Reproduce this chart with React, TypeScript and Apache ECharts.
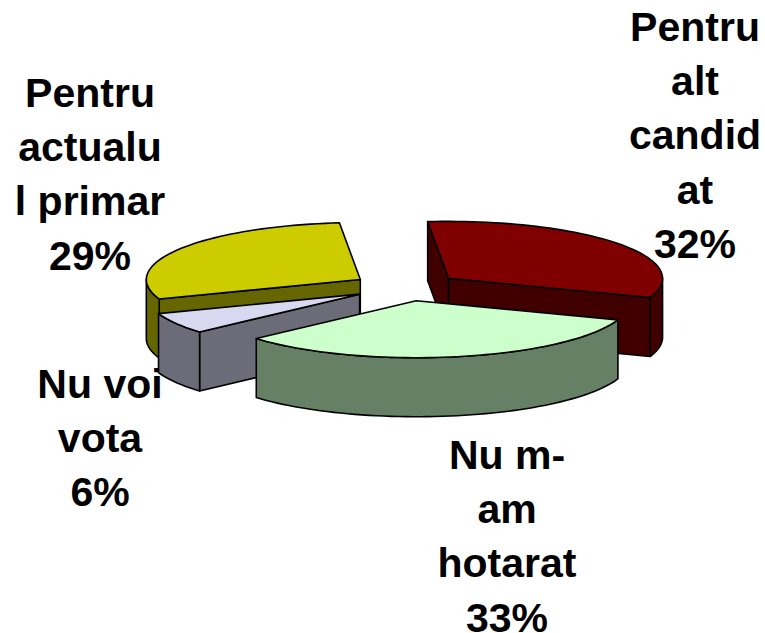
import React, { useEffect, useRef } from "react";
import * as echarts from "echarts";

const categories = ["Pentru alt candidat", "Nu m-am hotarat", "Nu voi vota", "Pentru actualul primar"];
const values = [32, 33, 6, 29];
const labelLines = [
  ["Pentru", "alt", "candid", "at"],
  ["Nu m-", "am", "hotarat"],
  ["Nu voi", "vota"],
  ["Pentru", "actualu", "l primar"],
];
const topColors = ["#800000", "#CCFFCC", "#D8D8F0", "#CCCC00"];
const sideColors = ["#400000", "#668066", "#6C6C78", "#666600"];
const labelAnchors = [[695, 6], [507, 434], [100, 363], [90, 72]];
const drawOrder = [0, 3, 2, 1];

const CX = 406, CY = 287, RX = 214, RY = 57, DEPTH = 59, EXPLODE_X = 54, EXPLODE_Y = 14, START = -5.6;
const LINE_H = 54.4;

const total = values.reduce((a, b) => a + b, 0);
const spans = values.map((v, i) => {
  const before = values.slice(0, i).reduce((a, b) => a + b, 0);
  return [START + (before / total) * 360, START + ((before + v) / total) * 360];
});

const rad = (d: number) => (d * Math.PI) / 180;
const stroke = { stroke: "#000", lineWidth: 1.6, lineJoin: "round" as const };

function renderSlice(i: number) {
  const [a0, a1] = spans[i];
  const mid = (a0 + a1) / 2;
  const ax = CX + EXPLODE_X * Math.sin(rad(mid));
  const ay = CY - EXPLODE_Y * Math.cos(rad(mid));
  const pt = (a: number, dz = 0): number[] => [
    ax + RX * Math.sin(rad(a)),
    ay - RY * Math.cos(rad(a)) + dz,
  ];
  const arc = (from: number, to: number, dz = 0) => {
    const out: number[][] = [];
    const n = Math.max(2, Math.ceil(Math.abs(to - from) / 2));
    for (let k = 0; k <= n; k++) out.push(pt(from + ((to - from) * k) / n, dz));
    return out;
  };
  const poly = (points: number[][], fill: string) => ({
    type: "polygon",
    shape: { points },
    style: { fill, ...stroke },
  });
  const children: any[] = [];
  const side = sideColors[i];
  if (Math.sin(rad(a0)) < 0) {
    children.push(poly([[ax, ay], pt(a0), pt(a0, DEPTH), [ax, ay + DEPTH]], side));
  }
  if (Math.sin(rad(a1)) > 0) {
    children.push(poly([[ax, ay], pt(a1), pt(a1, DEPTH), [ax, ay + DEPTH]], side));
  }
  const w0 = Math.max(a0, 90);
  const w1 = Math.min(a1, 270);
  if (w1 > w0) {
    children.push(poly([...arc(w0, w1), ...arc(w1, w0, DEPTH)], side));
  }
  children.push(poly([[ax, ay], ...arc(a0, a1)], topColors[i]));
  return { type: "group", children };
}

function labelGraphics() {
  return labelLines.map((lines, i) => ({
    type: "group",
    children: [...lines, `${values[i]}%`].map((t, k) => ({
      type: "text",
      x: labelAnchors[i][0],
      y: labelAnchors[i][1] + k * LINE_H,
      style: {
        text: t,
        fill: "#000",
        font: 'bold 41px "Liberation Sans", Arial, sans-serif',
        textAlign: "center",
        textVerticalAlign: "top",
      },
    })),
  }));
}

export default function App() {
  const ref = useRef<HTMLDivElement>(null);
  useEffect(() => {
    const chart = echarts.init(ref.current!, undefined, { renderer: "svg" });
    chart.setOption({
      animation: false,
      backgroundColor: "#fff",
      graphic: labelGraphics(),
      series: drawOrder.map((idx) => ({
        type: "custom",
        coordinateSystem: "none",
        name: categories[idx],
        renderItem: () => renderSlice(idx),
        data: [values[idx]],
        silent: true,
      })),
    });
    return () => chart.dispose();
  }, []);
  return <div ref={ref} style={{ position: "fixed", left: 0, top: 0, width: 765, height: 633 }} />;
}
